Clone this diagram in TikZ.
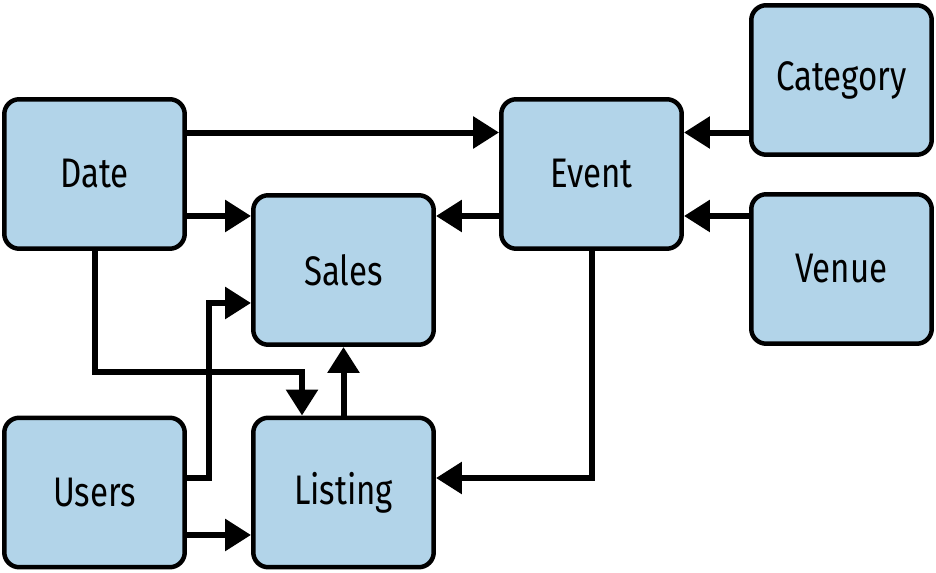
\documentclass[tikz,border=0pt]{standalone}
\usepackage{fontspec}
\setmainfont{Fira Sans}[FakeStretch=0.8]
\usetikzlibrary{arrows.meta}
\definecolor{boxblue}{RGB}{178,212,233}

\tikzset{
  table/.style={draw, fill=boxblue, line width=0.09cm, rounded corners=0.3cm,
    minimum width=3.61cm, minimum height=2.99cm, font=\fontsize{23.5}{26}\selectfont},
  link/.style={line width=0.12cm, -{Triangle[length=0.52cm,width=0.62cm]}}
}

\begin{document}
\begin{tikzpicture}[x=0.02cm,y=-0.02cm]
\useasboundingbox (0,0) rectangle (936,573);
\node[table] (date) at (94.5,174) {Date};
\node[table] (sales) at (343.5,270) {Sales};
\node[table] (event) at (591.5,174) {Event};
\node[table] (cat) at (841.5,80) {Category};
\node[table] (venue) at (841.5,269) {Venue};
\node[table] (users) at (94.5,492.5) {Users};
\node[table] (listing) at (343.5,492.5) {Listing};

% points where the links leave the boxes
\coordinate (d1) at ([yshift=0.83cm]date.east);
\coordinate (d2) at ([yshift=-0.84cm]date.east);
\coordinate (e1) at ([yshift=0.83cm]event.east);
\coordinate (e2) at ([yshift=-0.84cm]event.east);
\coordinate (u1) at ([yshift=0.29cm]users.east);
\coordinate (u2) at ([yshift=-0.85cm]users.east);
\coordinate (s1) at ([yshift=-0.66cm]sales.west);
\coordinate (l1) at ([xshift=-0.83cm]listing.north);
\coordinate (jy) at (0,372);
\coordinate (ux) at (209,0);

\draw[link] (d1) -- (d1 -| event.west);
\draw[link] (d2) -- (d2 -| sales.west);
\draw[link] (e2 -| event.west) -- (e2 -| sales.east);
\draw[link] (cat.west |- e1) -- (e1);
\draw[link] (venue.west |- e2) -- (e2);
\draw[link] (date.south) |- (jy -| l1) -- (l1);
\draw[link] (listing.north) -- (sales.south);
\draw[link] (u1) -| (ux |- s1) -- (s1);
\draw[link] (u2) -- (u2 -| listing.west);
\draw[link] (event.south) |- (u1 -| listing.east);
\end{tikzpicture}
\end{document}
